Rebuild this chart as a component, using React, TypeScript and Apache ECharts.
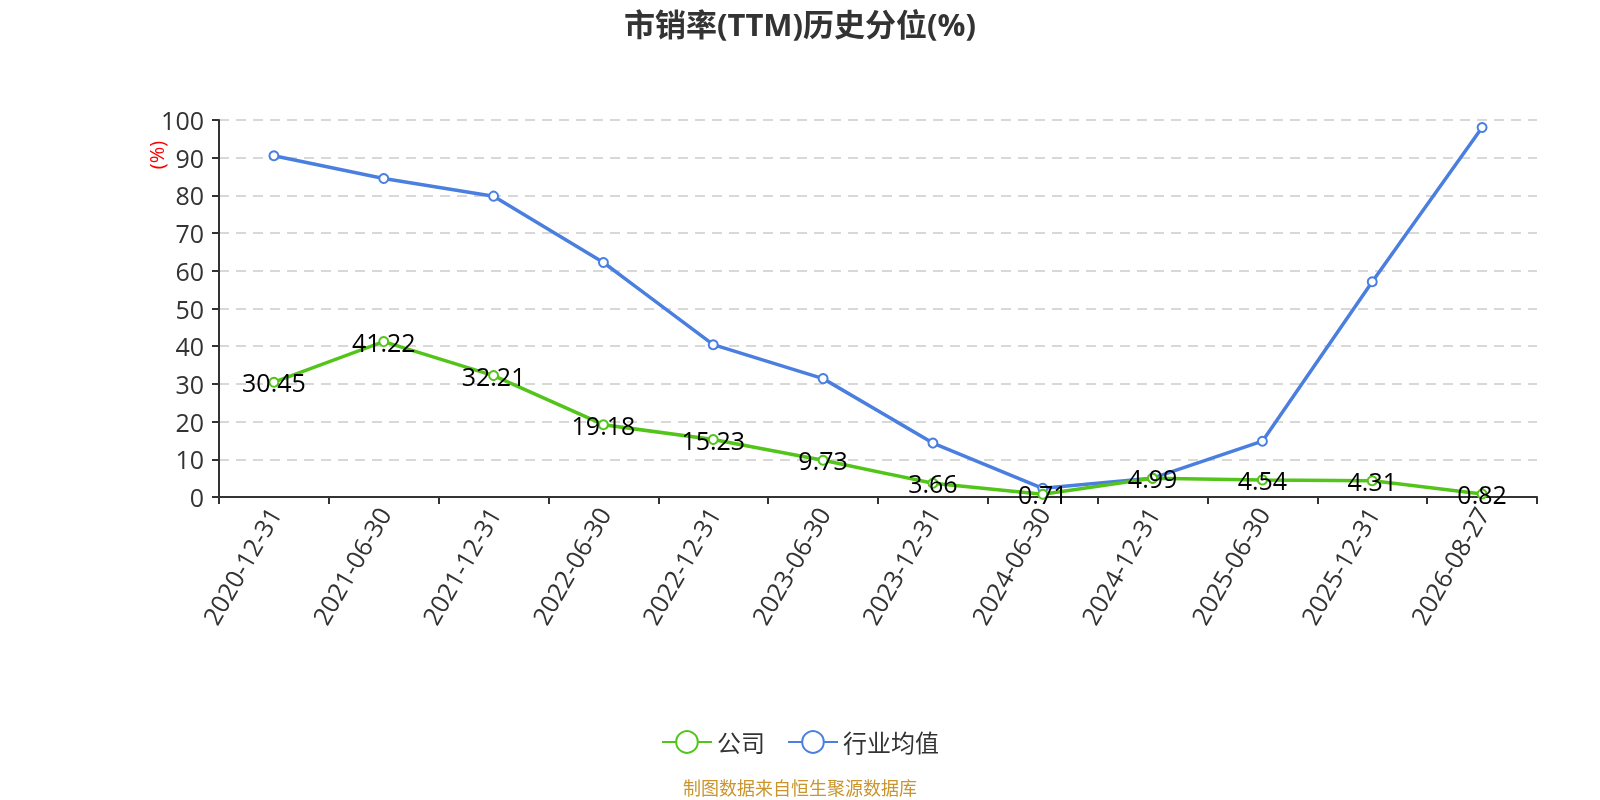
import React, { useEffect, useRef } from "react";
import * as echarts from "echarts";

const categories = [
  "2020-12-31", "2021-06-30", "2021-12-31", "2022-06-30", "2022-12-31", "2023-06-30",
  "2023-12-31", "2024-06-30", "2024-12-31", "2025-06-30", "2025-12-31", "2026-08-27",
];
const companyValues = [30.45, 41.22, 32.21, 19.18, 15.23, 9.73, 3.66, 0.71, 4.99, 4.54, 4.31, 0.82];
const industryValues = [90.5, 84.5, 79.8, 62.2, 40.4, 31.4, 14.3, 2.3, 5.0, 14.8, 57.1, 98.0];
const yTicks = { min: 0, max: 100, interval: 10 };

const FONT = "'Open Sans', 'Noto Sans CJK SC', sans-serif";

export default function App() {
  const ref = useRef<HTMLDivElement>(null);
  useEffect(() => {
    if (!ref.current) return;
    const chart = echarts.init(ref.current, undefined, { renderer: "svg" });
    chart.setOption({
      animation: false,
      textStyle: { fontFamily: FONT },
      title: {
        text: "市销率(TTM)历史分位(%)",
        left: "center",
        top: 3,
        textStyle: { fontSize: 31, fontWeight: "bold", color: "#333", fontFamily: FONT },
      },
      legend: {
        top: 725,
        left: "center",
        itemWidth: 50,
        itemHeight: 27,
        itemGap: 22,
        textStyle: { fontSize: 24, color: "#333", fontFamily: FONT },
        data: ["公司", "行业均值"],
      },
      grid: { left: 219, right: 63, top: 120, bottom: 303, containLabel: false, outerBoundsMode: "none" },
      xAxis: {
        type: "category",
        data: categories,
        boundaryGap: true,
        axisLine: { lineStyle: { color: "#333", width: 2 } },
        axisTick: { show: true, length: 7, lineStyle: { color: "#333", width: 2 } },
        axisLabel: { rotate: 60, fontSize: 25, color: "#333", margin: 12, interval: 0, fontFamily: FONT },
      },
      yAxis: {
        type: "value",
        min: yTicks.min,
        max: yTicks.max,
        interval: yTicks.interval,
        axisLine: { show: true, lineStyle: { color: "#333", width: 2 } },
        axisTick: { show: true, length: 7, lineStyle: { color: "#333", width: 2 } },
        axisLabel: { fontSize: 25, color: "#333", margin: 15, fontFamily: FONT },
        splitLine: { show: true, lineStyle: { color: "#ccc", type: [10, 7], width: 1.5 } },
      },
      graphic: [
        {
          type: "text",
          x: 156,
          y: 155,
          rotation: Math.PI / 2,
          style: {
            text: "(%)",
            fill: "#ff0000",
            font: `20px ${FONT}`,
            textAlign: "center",
            textVerticalAlign: "middle",
          },
        },
        {
          type: "text",
          x: 800,
          y: 788,
          style: {
            text: "制图数据来自恒生聚源数据库",
            fill: "#c9952c",
            font: `18px ${FONT}`,
            textAlign: "center",
            textVerticalAlign: "middle",
          },
        },
      ],
      series: [
        {
          name: "公司",
          type: "line",
          data: companyValues,
          symbol: "emptyCircle",
          symbolSize: 9,
          itemStyle: { color: "#52c41a", borderWidth: 2 },
          lineStyle: { color: "#52c41a", width: 3.5 },
          label: {
            show: true,
            position: "inside",
            fontSize: 25,
            color: "#000",
            fontFamily: FONT,
          },
          z: 3,
        },
        {
          name: "行业均值",
          type: "line",
          data: industryValues,
          symbol: "emptyCircle",
          symbolSize: 9,
          itemStyle: { color: "#4a7fe0", borderWidth: 2 },
          lineStyle: { color: "#4a7fe0", width: 3.5 },
          label: { show: false },
          z: 2,
        },
      ],
    });
    return () => chart.dispose();
  }, []);
  return <div ref={ref} style={{ position: "fixed", left: 0, top: 0, width: 1600, height: 800 }} />;
}
